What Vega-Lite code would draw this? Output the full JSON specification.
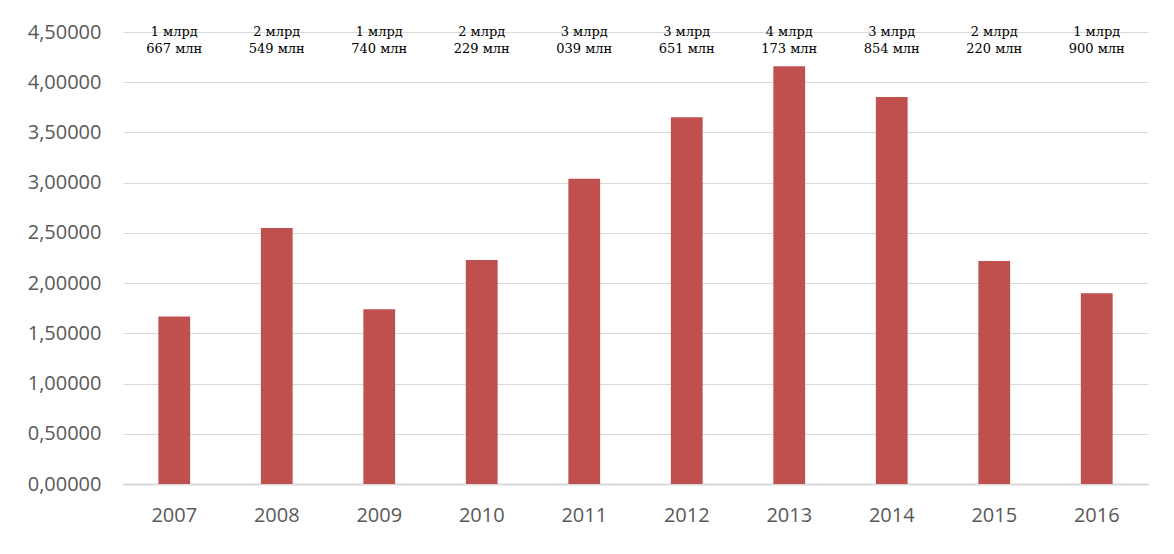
{
  "$schema": "https://vega.github.io/schema/vega-lite/v6.json",
  "width": 1025,
  "height": 452,
  "autosize": {"type": "none"},
  "padding": {"left": 123, "top": 32, "right": 26, "bottom": 70},
  "background": "white",
  "config": {"view": {"stroke": null}},
  "data": {
    "values": [
      {"year": "2007", "value": 1.667, "label": "1 млрд\n667 млн"},
      {"year": "2008", "value": 2.549, "label": "2 млрд\n549 млн"},
      {"year": "2009", "value": 1.740, "label": "1 млрд\n740 млн"},
      {"year": "2010", "value": 2.229, "label": "2 млрд\n229 млн"},
      {"year": "2011", "value": 3.039, "label": "3 млрд\n039 млн"},
      {"year": "2012", "value": 3.651, "label": "3 млрд\n651 млн"},
      {"year": "2013", "value": 4.160, "label": "4 млрд\n173 млн"},
      {"year": "2014", "value": 3.854, "label": "3 млрд\n854 млн"},
      {"year": "2015", "value": 2.220, "label": "2 млрд\n220 млн"},
      {"year": "2016", "value": 1.900, "label": "1 млрд\n900 млн"}
    ]
  },
  "encoding": {
    "x": {
      "field": "year",
      "type": "ordinal",
      "scale": {"paddingInner": 0.69, "paddingOuter": 0.345},
      "axis": {
        "title": null,
        "labelAngle": 0,
        "labelFont": "Open Sans",
        "labelFontSize": 20,
        "labelColor": "#595959",
        "labelPadding": 21,
        "ticks": false,
        "domainColor": "#d9d9d9",
        "domainWidth": 2
      }
    }
  },
  "layer": [
    {
      "mark": {"type": "bar", "color": "#c0504d"},
      "encoding": {
        "y": {
          "field": "value",
          "type": "quantitative",
          "scale": {"domain": [0, 4.5], "nice": false},
          "axis": {
            "title": null,
            "values": [0, 0.5, 1, 1.5, 2, 2.5, 3, 3.5, 4, 4.5],
            "labelExpr": "replace(format(datum.value, '.5f'), '.', ',')",
            "labelFont": "Open Sans",
            "labelFontSize": 20,
            "labelColor": "#595959",
            "labelPadding": 22,
            "ticks": false,
            "domain": false,
            "gridColor": "#d9d9d9",
            "gridWidth": 1
          }
        }
      }
    },
    {
      "mark": {
        "type": "text",
        "font": "DejaVu Serif",
        "fontSize": 13,
        "lineBreak": "\n",
        "lineHeight": 17,
        "baseline": "top",
        "align": "center",
        "dy": -6,
        "color": "black"
      },
      "encoding": {
        "y": {"datum": 4.5, "type": "quantitative"},
        "text": {"field": "label"}
      }
    }
  ]
}
